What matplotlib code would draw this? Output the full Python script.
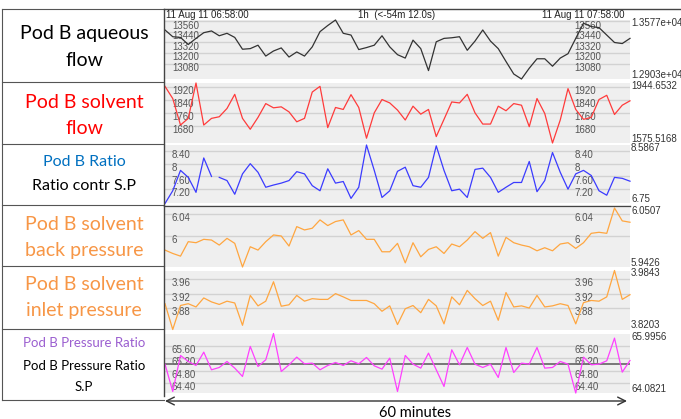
import numpy as np
import matplotlib
matplotlib.use('Agg')
import matplotlib.pyplot as plt

# one sample per minute, 06:58 -> 07:58
minutes = np.arange(61)

aqueous_flow = [13463, 13386, 13378, 13297, 13367, 13432, 13452, 13397, 13425, 13378,
                13243, 13250, 13289, 13165, 13223, 13258, 13154, 13212, 13165, 13270,
                13444, 13514, 13577, 13425, 13405, 13239, 13262, 13289, 13397, 13270,
                13181, 13142, 13347, 13250, 12999, 13328, 13367, 13374, 13386, 13231,
                13336, 13463, 13336, 13250, 13103, 12960, 12903, 13026, 13134, 13134,
                13049, 13142, 13192, 13367, 13540, 13502, 13490, 13405, 13320, 13308,
                13367]
solvent_flow = [1924, 1849, 1686, 1727, 1944.65, 1686, 1727, 1737, 1788, 1875,
                1727, 1660, 1733, 1818, 1792, 1798, 1767, 1706, 1727, 1889,
                1924, 1670, 1794, 1782, 1873, 1794, 1605, 1761, 1843, 1822,
                1778, 1717, 1802, 1753, 1782, 1615, 1721, 1828, 1822, 1875,
                1761, 1692, 1692, 1802, 1774, 1818, 1808, 1676, 1849, 1757,
                1575.52, 1717, 1910, 1782, 1721, 1733, 1843, 1869, 1751, 1808,
                1835]
ratio = [6.75, 7.15, 7.79, 7.57, 7.10, 8.18, 7.60, 7.57, 7.47, 7.04,
         7.68, 8.00, 7.73, 7.26, 7.33, 7.39, 7.47, 7.75, 7.68, 7.31,
         7.15, 7.84, 7.39, 7.44, 6.91, 7.26, 8.5867, 7.79, 6.94, 7.15,
         7.76, 7.89, 7.31, 7.26, 7.57, 8.56, 7.79, 7.15, 7.20, 6.94,
         7.82, 7.86, 7.57, 7.10, 7.26, 7.41, 7.41, 8.07, 7.12, 7.47,
         8.35, 7.73, 7.20, 7.68, 7.79, 7.63, 7.15, 7.01, 7.57, 7.54,
         7.45]
ratio_gap_after = 6   # no segment drawn between minute 6 and 7
back_pressure = [5.9736, 5.9674, 5.9625, 5.9890, 5.9871, 5.9933, 5.9920, 5.9828, 5.9951, 5.9859,
                 5.9426, 5.9797, 5.9736, 5.9890, 6.0013, 5.9994, 5.9810, 6.0166, 6.0105, 6.0136,
                 6.0289, 6.0185, 6.0259, 6.0289, 6.0013, 6.0093, 5.9933, 5.9933, 5.9705, 5.9705,
                 5.9859, 5.9502, 5.9871, 5.9613, 5.9748, 5.9797, 5.9674, 5.9847, 5.9797, 5.9920,
                 6.0074, 5.9951, 6.0056, 5.9625, 5.9969, 5.9871, 5.9828, 5.9797, 5.9723, 5.9779,
                 5.9723, 5.9847, 5.9871, 5.9767, 5.9871, 6.0043, 6.0062, 6.0043, 6.0507, 6.0271,
                 6.0246]
inlet_pressure = [3.892, 3.8203, 3.887, 3.892, 3.883, 3.908, 3.897, 3.890, 3.899, 3.894,
                  3.832, 3.915, 3.886, 3.899, 3.953, 3.885, 3.889, 3.915, 3.899, 3.906,
                  3.904, 3.904, 3.920, 3.911, 3.901, 3.901, 3.901, 3.892, 3.871, 3.886,
                  3.834, 3.878, 3.887, 3.867, 3.904, 3.886, 3.836, 3.911, 3.889, 3.929,
                  3.906, 3.887, 3.899, 3.846, 3.923, 3.883, 3.886, 3.880, 3.915, 3.883,
                  3.886, 3.892, 3.887, 3.836, 3.895, 3.901, 3.899, 3.911, 3.9843, 3.904,
                  3.917]
pressure_ratio = [65.010, 64.131, 65.289, 65.096, 64.968, 65.396, 64.828, 64.903, 65.096, 64.882,
                  64.614, 65.579, 64.935, 65.150, 65.9956, 64.775, 64.989, 65.236, 65.021, 65.043,
                  64.828, 64.968, 65.064, 64.968, 65.118, 65.021, 65.225, 64.957, 64.850, 65.203,
                  64.131, 65.289, 65.010, 64.882, 65.364, 64.828, 64.292, 65.471, 64.989, 65.546,
                  65.010, 64.903, 65.010, 64.582, 65.546, 64.742, 65.043, 65.010, 65.546, 64.882,
                  64.903, 65.096, 65.010, 64.0821, 65.236, 64.989, 65.010, 65.118, 65.847, 64.753,
                  65.128]
pressure_ratio_sp = 65.02

series = [aqueous_flow, solvent_flow, ratio, back_pressure, inlet_pressure, pressure_ratio]
ticks = [[13560, 13440, 13320, 13200, 13080],
         [1920, 1840, 1760, 1680],
         [8.40, 8.0, 7.60, 7.20],
         [6.04, 6.0],
         [3.96, 3.92, 3.88],
         [65.60, 65.20, 64.80, 64.40]]
tick_labels = [['13560', '13440', '13320', '13200', '13080'],
               ['1920', '1840', '1760', '1680'],
               ['8.40', '8', '7.60', '7.20'],
               ['6.04', '6'],
               ['3.96', '3.92', '3.88'],
               ['65.60', '65.20', '64.80', '64.40']]
range_labels = [('1.3577e+04', '1.2903e+04'),
                ('1944.6532', '1575.5168'),
                ('8.5867', '6.75'),
                ('6.0507', '5.9426'),
                ('3.9843', '3.8203'),
                ('65.9956', '64.0821')]
ylims = [(12903, 13577), (1575.5168, 1944.6532), (6.75, 8.5867),
         (5.9426, 6.0507), (3.8203, 3.9843), (64.0821, 65.9956)]
line_colors = ['#333333', '#ff3b3b', '#3b3bff', '#ffa640', '#ffa640', '#ff40ff']

# left hand table: (text, colour, size, y centre in px)
row_texts = [
    [('Pod B aqueous', 'black', 14, 33), ('flow', 'black', 14, 60)],
    [('Pod B solvent', '#ff0000', 14, 102), ('flow', '#ff0000', 14, 128)],
    [('Pod B Ratio', '#0070c0', 11.5, 162), ('Ratio contr S.P', 'black', 11.5, 186)],
    [('Pod B solvent', '#f79646', 14, 224), ('back pressure', '#f79646', 14, 250)],
    [('Pod B solvent', '#f79646', 14, 284), ('inlet pressure', '#f79646', 14, 310)],
    [('Pod B Pressure Ratio', '#9b5fd0', 9.5, 343), ('Pod B Pressure Ratio', 'black', 9.5, 366),
     ('S.P', 'black', 9.5, 387)],
]
row_edges = [9, 82, 144, 205, 266, 329, 400]

t_start = '11 Aug 11 06:58:00'
t_end = '11 Aug 11 07:58:00'
t_span = '1h  (<-54m 12.0s)'

W, H = 681, 419
fig = plt.figure(figsize=(W / 100, H / 100), dpi=100)

# panel extents in pixels (top, bottom)
panels = [(20, 79), (83, 143), (145, 203.5), (208, 267), (270.5, 329.5), (333.5, 393)]
x0, x1 = 165, 630

for k, (top, bot) in enumerate(panels):
    ax = fig.add_axes([x0 / W, 1 - bot / H, (x1 - x0) / W, (bot - top) / H])
    ax.set_facecolor('#efefef')
    for s in ax.spines.values():
        s.set_visible(False)
    ax.set_xticks([])
    ax.set_yticks([])
    ax.set_xlim(0, 60)
    ax.set_ylim(*ylims[k])
    for v, lab in zip(ticks[k], tick_labels[k]):
        ax.axhline(v, color='#d2d2d2', lw=1, zorder=1)
        for xf in (0.015, 0.88):
            ax.annotate(lab, (xf, v), xycoords=('axes fraction', 'data'),
                        xytext=(0, -3), textcoords='offset points',
                        ha='left', va='center', fontsize=7, color='#555555',
                        family='Liberation Sans', zorder=2)
    y = np.array(series[k], dtype=float)
    if k == 2:
        ax.plot(minutes[:ratio_gap_after + 1], y[:ratio_gap_after + 1],
                color=line_colors[k], lw=0.9, zorder=3, clip_on=False)
        ax.plot(minutes[ratio_gap_after + 1:], y[ratio_gap_after + 1:],
                color=line_colors[k], lw=0.9, zorder=3, clip_on=False)
    else:
        ax.plot(minutes, y, color=line_colors[k], lw=0.9, zorder=3, clip_on=False)
    if k == 5:
        ax.axhline(pressure_ratio_sp, color='#6e6e6e', lw=1.3, zorder=2.5)
    hi, lo = range_labels[k]
    ax.annotate(hi, (1, 1), xycoords='axes fraction', xytext=(1, 2),
                textcoords='offset pixels', ha='left', va='top', fontsize=7,
                color='#333333', family='Liberation Sans', annotation_clip=False)
    ax.annotate(lo, (1, 0), xycoords='axes fraction', xytext=(1, -1),
                textcoords='offset pixels', ha='left', va='bottom', fontsize=7,
                color='#333333', family='Liberation Sans', annotation_clip=False)

# overlay in pixel coordinates for the table, frame, header and arrow
ov = fig.add_axes([0, 0, 1, 1], facecolor='none')
ov.set_xlim(0, W)
ov.set_ylim(H, 0)
ov.axis('off')

for ye in row_edges:
    ov.plot([2, 164], [ye, ye], color='#555555', lw=0.8)
ov.plot([2, 2], [row_edges[0], row_edges[-1]], color='#555555', lw=0.8)
ov.plot([164, 164], [9, 396], color='#444444', lw=1)
ov.plot([164, W], [9, 9], color='#444444', lw=1)
ov.plot([164, 630], [205.5, 205.5], color='#444444', lw=1)

for row in row_texts:
    for txt, col, size, yc in row:
        ov.text(84, yc, txt, color=col, fontsize=size, family='Lato',
                ha='center', va='center')

ov.text(166, 15.5, t_start, fontsize=7, family='Liberation Sans', color='#222222',
        ha='left', va='center')
ov.text(358, 15.5, t_span, fontsize=7, family='Liberation Sans', color='#222222',
        ha='left', va='center')
ov.text(624, 15.5, t_end, fontsize=7, family='Liberation Sans', color='#222222',
        ha='right', va='center')

ov.annotate('', xy=(627, 401), xytext=(165, 401),
            arrowprops=dict(arrowstyle='<->', color='#333333', lw=1,
                            mutation_scale=14, shrinkA=0, shrinkB=0))
ov.text(415, 413, '60 minutes', fontsize=10.5, family='Lato', color='black',
        ha='center', va='center')

fig.savefig('out.png', dpi=100)
